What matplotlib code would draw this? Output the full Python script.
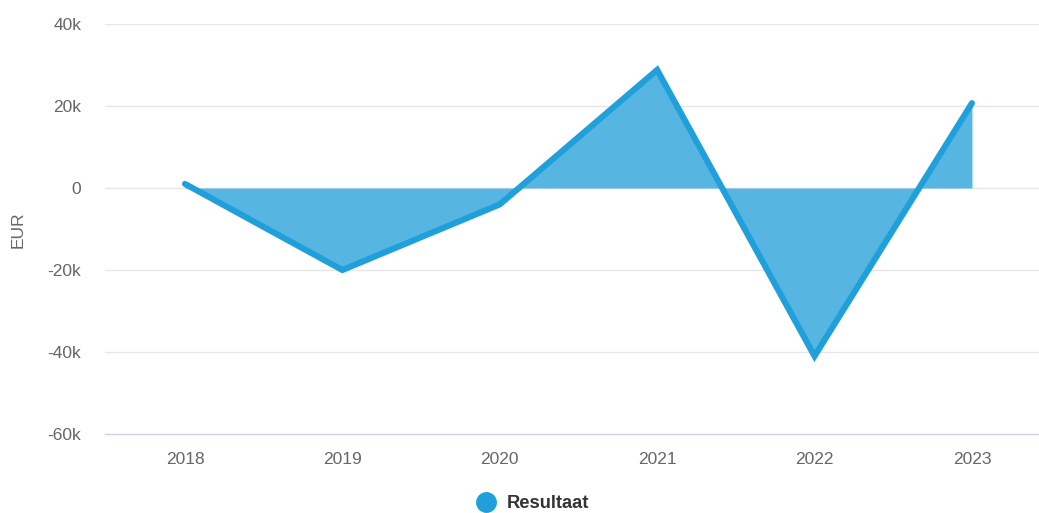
import matplotlib
matplotlib.use("Agg")
import matplotlib.pyplot as plt
import numpy as np
from matplotlib.lines import Line2D

# ── Data ───────────────────────────────────────────────────────────────────────
years = ["2018", "2019", "2020", "2021", "2022", "2023"]
resultaat = [1000, -20000, -4000, 28800, -41000, 20700]

y_ticks = [-60000, -40000, -20000, 0, 20000, 40000]
y_labels = ["-60k", "-40k", "-20k", "0", "20k", "40k"]

LINE_COLOR = "#1fa0db"
FILL_COLOR = "#57b5e2"
TEXT_COLOR = "#666666"

plt.rcParams["font.family"] = ["Liberation Sans", "DejaVu Sans"]

fig = plt.figure(figsize=(10.39, 5.13), dpi=100)
W, H = 1039, 513
ax = fig.add_axes([105 / W, (H - 434) / H, (1039 - 105) / W, (434 - 24) / H])

x = np.arange(len(years))
y = np.array(resultaat, dtype=float)

ax.fill_between(x, y, 0, color=FILL_COLOR, lw=0, interpolate=True, zorder=2)
ax.plot(x, y, color=LINE_COLOR, lw=4.4, solid_capstyle="round",
        solid_joinstyle="miter", zorder=3)

ax.set_ylim(-60000, 40000)
ax.set_xlim(-0.508, 5.426)
ax.set_yticks(y_ticks)
ax.set_yticklabels(y_labels)
ax.set_xticks(x)
ax.set_xticklabels(years)

for v in y_ticks[1:]:
    ax.axhline(v, color="#e6e6e6", lw=1.0, zorder=1)

for s in ["top", "right", "left"]:
    ax.spines[s].set_visible(False)
ax.spines["bottom"].set_color("#ccd6eb")
ax.spines["bottom"].set_linewidth(1.0)

ax.tick_params(axis="y", length=0, pad=17, labelsize=12.5, labelcolor=TEXT_COLOR)
ax.tick_params(axis="x", length=0, pad=13, labelsize=12.5, labelcolor=TEXT_COLOR)

fig.text(18 / W, 1 - 230 / H, "EUR", rotation=90, ha="center", va="center",
         fontsize=12.5, color=TEXT_COLOR)

handle = Line2D([], [], marker="o", ls="", markersize=14,
                markerfacecolor=LINE_COLOR, markeredgecolor=LINE_COLOR)
fig.legend([handle], ["Resultaat"], loc="center", bbox_to_anchor=(532 / W, 1 - 504 / H),
           frameon=False, handletextpad=0.5, handlelength=1.2,
           prop={"size": 13.2, "weight": "bold"}, labelcolor="#333333")

fig.savefig("out.png", dpi=100)
